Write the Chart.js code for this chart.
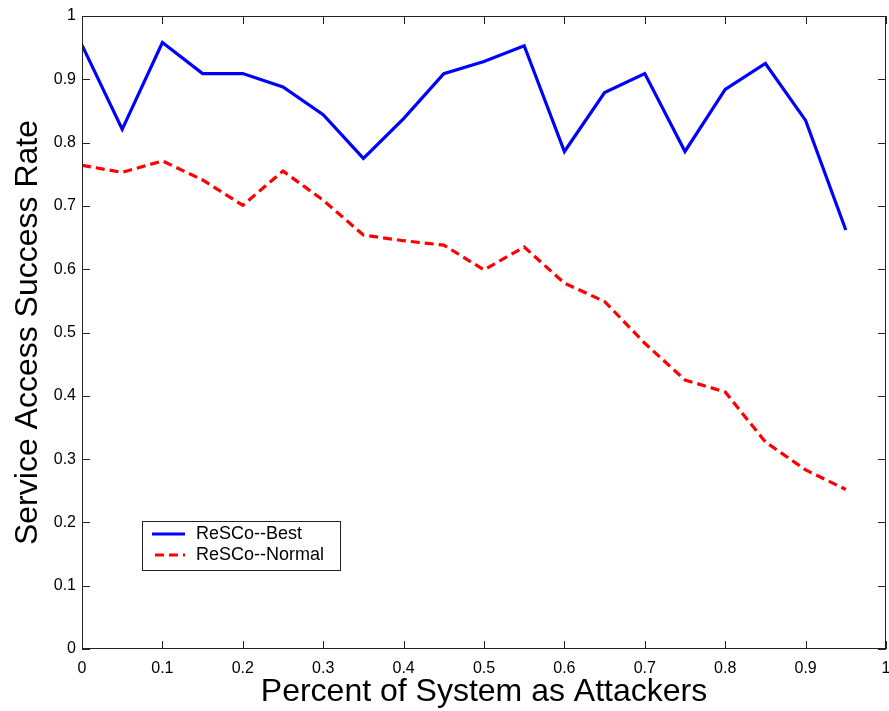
<!DOCTYPE html>
<html lang="en">
<head>
<meta charset="UTF-8" />
<title>Service Access Success Rate</title>
<script src="https://cdn.jsdelivr.net/npm/chart.js@4.4.0/dist/chart.umd.min.js"></script>
<style>
  body { margin: 0; background: #fff; }
  #wrap { width: 889px; height: 711px; }
</style>
</head>
<body>
<div id="wrap"><canvas id="myChart" width="889" height="711"></canvas></div>
<script>
// fraction of the system acting as attackers
const attackerShare = [0, 0.05, 0.1, 0.15, 0.2, 0.25, 0.3, 0.35, 0.4, 0.45,
                       0.5, 0.55, 0.6, 0.65, 0.7, 0.75, 0.8, 0.85, 0.9, 0.95];
const bestRate = [0.954, 0.821, 0.958, 0.909, 0.909, 0.888, 0.844, 0.775, 0.838, 0.909,
                  0.928, 0.953, 0.786, 0.879, 0.909, 0.786, 0.884, 0.925, 0.835, 0.662];
const normalRate = [0.764, 0.753, 0.771, 0.741, 0.701, 0.755, 0.709, 0.654, 0.645, 0.638,
                    0.599, 0.635, 0.578, 0.549, 0.483, 0.425, 0.406, 0.327, 0.283, 0.252];
const tickValues = [0, 0.1, 0.2, 0.3, 0.4, 0.5, 0.6, 0.7, 0.8, 0.9, 1];
const tickLabels = ['0', '0.1', '0.2', '0.3', '0.4', '0.5', '0.6', '0.7', '0.8', '0.9', '1'];

const FONT = "'Liberation Sans', Arial, Helvetica, sans-serif";

function toPoints(values) {
  return values.map((v, i) => ({ x: attackerShare[i], y: v }));
}

// box around the axes, inward tick marks on all sides, and the legend inside the plot
const framePlugin = {
  id: 'frame',
  afterDatasetsDraw(chart) {
    const { ctx, chartArea: a, scales: { x, y } } = chart;
    ctx.save();
    ctx.strokeStyle = '#222';
    ctx.lineWidth = 1;
    ctx.strokeRect(a.left + 0.5, a.top + 0.5, a.right - a.left - 1, a.bottom - a.top - 1);
    ctx.beginPath();
    tickValues.forEach(v => {
      const px = Math.round(x.getPixelForValue(v)) + 0.5;
      ctx.moveTo(px, a.bottom); ctx.lineTo(px, a.bottom - 8);
      ctx.moveTo(px, a.top); ctx.lineTo(px, a.top + 8);
      const py = Math.round(y.getPixelForValue(v)) + 0.5;
      ctx.moveTo(a.left, py); ctx.lineTo(a.left + 8, py);
      ctx.moveTo(a.right, py); ctx.lineTo(a.right - 8, py);
    });
    ctx.stroke();

    // legend
    const bx = a.left + 60, by = a.top + 505, bw = 198, bh = 49;
    ctx.fillStyle = '#fff';
    ctx.fillRect(bx, by, bw, bh);
    ctx.strokeStyle = '#222';
    ctx.strokeRect(bx + 0.5, by + 0.5, bw, bh);
    ctx.font = '18px ' + FONT;
    ctx.textBaseline = 'middle';
    chart.data.datasets.forEach((ds, i) => {
      const ry = by + 13 + i * 21;
      ctx.beginPath();
      ctx.strokeStyle = ds.borderColor;
      ctx.lineWidth = 3;
      ctx.setLineDash(ds.borderDash || []);
      ctx.moveTo(bx + (ds.borderDash ? 13 : 10), ry);
      ctx.lineTo(bx + 43, ry);
      ctx.stroke();
      ctx.setLineDash([]);
      ctx.fillStyle = '#000';
      ctx.fillText(ds.label, bx + 54, ry);
    });
    ctx.restore();
  }
};

const ctx = document.getElementById('myChart').getContext('2d');
new Chart(ctx, {
  type: 'line',
  data: {
    datasets: [
      {
        label: 'ReSCo--Best',
        data: toPoints(bestRate),
        borderColor: '#0000ff',
        borderWidth: 3.2,
        pointRadius: 0,
        tension: 0,
        fill: false
      },
      {
        label: 'ReSCo--Normal',
        data: toPoints(normalRate),
        borderColor: '#ff0000',
        borderWidth: 3.2,
        borderDash: [9, 5],
        pointRadius: 0,
        tension: 0,
        fill: false
      }
    ]
  },
  options: {
    responsive: false,
    animation: false,
    layout: { padding: { top: 16, right: 3, left: 0, bottom: 0 } },
    plugins: {
      legend: { display: false },
      tooltip: { enabled: false }
    },
    scales: {
      x: {
        type: 'linear',
        min: 0,
        max: 1,
        afterBuildTicks: s => { s.ticks = tickValues.map(v => ({ value: v })); },
        afterFit: s => { s.height = 62; s.paddingLeft = 0; s.paddingRight = 0; },
        grid: { display: false, drawTicks: false },
        border: { display: false },
        ticks: {
          maxRotation: 0,
          autoSkip: false,
          padding: 10,
          color: '#000',
          font: { family: FONT, size: 16 },
          callback: (v, i) => tickLabels[i]
        },
        title: {
          display: true,
          text: 'Percent of System as Attackers',
          color: '#000',
          font: { family: FONT, size: 32 },
          padding: { top: 0, bottom: 0 }
        }
      },
      y: {
        type: 'linear',
        min: 0,
        max: 1,
        afterBuildTicks: s => { s.ticks = tickValues.map(v => ({ value: v })); },
        afterFit: s => { s.width = 82; s.paddingTop = 0; s.paddingBottom = 0; },
        grid: { display: false, drawTicks: false },
        border: { display: false },
        ticks: {
          autoSkip: false,
          padding: 6,
          color: '#000',
          font: { family: FONT, size: 16 },
          callback: (v, i) => tickLabels[i]
        },
        title: {
          display: true,
          text: 'Service Access Success Rate',
          color: '#000',
          font: { family: FONT, size: 32 },
          padding: { top: 9, bottom: 0 }
        }
      }
    }
  },
  plugins: [framePlugin]
});
</script>
</body>
</html>
